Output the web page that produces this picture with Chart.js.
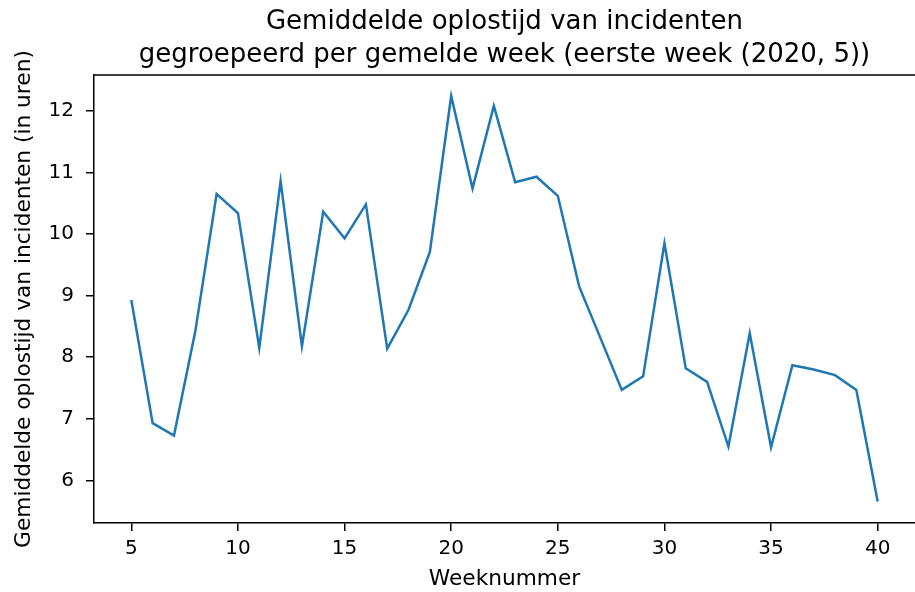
<!DOCTYPE html>
<html>
<head>
<meta charset="utf-8">
<script src="https://cdn.jsdelivr.net/npm/chart.js@4"></script>
<style>
  html, body { margin: 0; padding: 0; background: #fff; }
  #wrap { width: 915px; height: 592px; }
</style>
</head>
<body>
<div id="wrap"><canvas id="lineChart" width="915" height="592"></canvas></div>
<script>
const weeks = [5, 6, 7, 8, 9, 10, 11, 12, 13, 14, 15, 16, 17, 18, 19, 20, 21, 22,
               23, 24, 25, 26, 27, 28, 29, 30, 31, 32, 33, 34, 35, 36, 37, 38, 39, 40];
const avgHours = [8.93, 6.93, 6.73, 8.42, 10.65, 10.34, 8.15, 10.86, 8.18, 10.36, 9.93, 10.48,
                  8.14, 8.77, 9.71, 12.24, 10.74, 12.08, 10.84, 10.93, 10.62, 9.15, 8.31, 7.47,
                  7.69, 9.85, 7.82, 7.60, 6.55, 8.39, 6.54, 7.87, 7.80, 7.71, 7.47, 5.66];
const xTicks = [5, 10, 15, 20, 25, 30, 35, 40];
const yTicks = [6, 7, 8, 9, 10, 11, 12];

const titleLines = ["Gemiddelde oplostijd van incidenten",
                    "gegroepeerd per gemelde week (eerste week (2020, 5))"];
const xLabel = "Weeknummer";
const yLabel = "Gemiddelde oplostijd van incidenten (in uren)";

const FONT = "'DejaVu Sans', sans-serif";

// top spine like matplotlib's box
const topSpine = {
    id: "topSpine",
    afterDraw(chart) {
        const { ctx, chartArea } = chart;
        ctx.save();
        ctx.strokeStyle = "#000";
        ctx.lineWidth = 1.5;
        ctx.beginPath();
        ctx.moveTo(chartArea.left, chartArea.top);
        ctx.lineTo(chartArea.right, chartArea.top);
        ctx.stroke();
        ctx.restore();
    }
};

const ctx = document.getElementById("lineChart").getContext("2d");
new Chart(ctx, {
    type: "line",
    data: {
        datasets: [{
            data: weeks.map((w, i) => ({ x: w, y: avgHours[i] })),
            borderColor: "#1f77b4",
            borderWidth: 2.5,
            pointRadius: 0,
            tension: 0,
            fill: false
        }]
    },
    options: {
        responsive: false,
        devicePixelRatio: 1,
        animation: false,
        layout: { padding: 0 },
        plugins: {
            legend: { display: false },
            tooltip: { enabled: false },
            title: {
                display: true,
                fullSize: false,
                text: titleLines,
                color: "#000",
                font: { family: FONT, size: 26, weight: "normal", lineHeight: 1.27 },
                padding: { top: 6, bottom: 3 }
            }
        },
        scales: {
            x: {
                type: "linear",
                min: 3.25,
                max: 41.75,
                afterBuildTicks: s => { s.ticks = xTicks.map(v => ({ value: v })); },
                afterFit: s => { s.height = 69; },
                grid: { drawOnChartArea: false, tickLength: 8, color: "#000", lineWidth: 1.5 },
                border: { color: "#000", width: 1.5 },
                ticks: { color: "#000", padding: 6, maxRotation: 0, font: { family: FONT, size: 20 } },
                title: { display: true, text: xLabel, color: "#000", padding: 0,
                         font: { family: FONT, size: 21.7 } }
            },
            y: {
                min: 5.31,
                max: 12.58,
                afterBuildTicks: s => { s.ticks = yTicks.map(v => ({ value: v })); },
                afterFit: s => { s.width = 94; },
                grid: { drawOnChartArea: false, tickLength: 8, color: "#000", lineWidth: 1.5 },
                border: { color: "#000", width: 1.5 },
                ticks: { color: "#000", padding: 12, font: { family: FONT, size: 20 } },
                title: { display: true, text: yLabel, color: "#000", padding: { top: 11, bottom: 0 },
                         font: { family: FONT, size: 21.7 } }
            }
        }
    },
    plugins: [topSpine]
});
</script>
</body>
</html>
